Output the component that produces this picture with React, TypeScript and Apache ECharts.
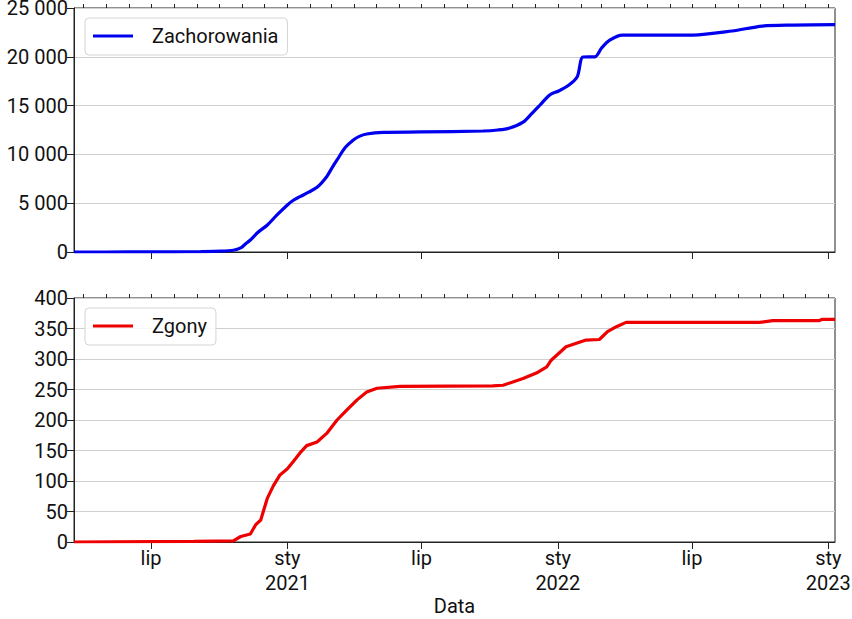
import React, { useEffect, useRef } from "react";
import * as echarts from "echarts";

const casesDates = [
  "2020-03-19", "2020-06-01", "2020-08-01", "2020-09-06", "2020-10-03", "2020-10-20", "2020-10-30",
  "2020-11-05", "2020-11-12", "2020-11-22", "2020-12-05", "2020-12-18", "2021-01-01", "2021-01-09",
  "2021-01-18", "2021-01-29", "2021-02-10", "2021-02-23", "2021-03-02", "2021-03-09", "2021-03-20",
  "2021-03-31", "2021-04-08", "2021-04-18", "2021-05-10", "2021-07-01", "2021-09-22", "2021-10-12",
  "2021-10-28", "2021-11-15", "2021-11-27", "2021-12-08", "2021-12-21", "2022-01-02", "2022-01-14",
  "2022-01-27", "2022-02-04", "2022-02-20", "2022-03-01", "2022-03-12", "2022-03-29", "2022-07-02",
  "2022-08-24", "2022-10-04", "2022-11-15", "2023-01-10",
];
const casesValues = [
  0, 5, 20, 40, 80, 180, 420,
  800, 1230, 2000, 2770, 3800, 4820, 5300,
  5670, 6100, 6630, 7720, 8600, 9430, 10700,
  11480, 11850, 12090, 12260, 12300, 12400, 12500,
  12700, 13300, 14200, 15060, 16090, 16500, 17000,
  17930, 19980, 20000, 20900, 21700, 22230, 22230,
  22640, 23150, 23250, 23290,
];

const deathsDates = [
  "2020-03-19", "2020-08-28", "2020-10-20", "2020-10-30", "2020-11-12", "2020-11-19", "2020-11-26",
  "2020-11-30", "2020-12-05", "2020-12-13", "2020-12-22", "2021-01-01", "2021-01-09", "2021-01-18",
  "2021-01-27", "2021-02-10", "2021-02-23", "2021-03-09", "2021-03-22", "2021-04-05", "2021-04-18",
  "2021-05-02", "2021-06-02", "2021-10-05", "2021-10-19", "2021-11-15", "2021-12-03", "2021-12-17",
  "2021-12-23", "2022-01-12", "2022-02-08", "2022-02-26", "2022-03-09", "2022-03-21", "2022-04-03",
  "2022-09-30", "2022-10-18", "2022-12-20", "2022-12-24", "2023-01-10",
];
const deathsValues = [
  0, 1, 2, 9, 13, 28, 36,
  52, 72, 92, 110, 120, 132, 146,
  158, 164, 178, 200, 216, 233, 246,
  252, 255, 256, 257, 268, 277, 287,
  298, 320, 331, 332, 345, 353, 360,
  360, 363, 363, 365, 365,
];

const xMin = "2020-03-19";
const xMax = "2023-01-10";
const majorTickMonths = ["2020-07", "2021-01", "2021-07", "2022-01", "2022-07", "2023-01"];

const FONT = "Roboto";

function dayTs(s: string): number {
  const [y, m, d] = s.split("-").map(Number);
  return Date.UTC(y, m - 1, d || 1);
}

function buildMinor(): number[] {
  const out: number[] = [];
  for (let y = 2020; y <= 2023; y++) {
    for (let m = 0; m < 12; m++) {
      const t = Date.UTC(y, m, 1);
      if (t >= Date.UTC(2020, 3, 1) && t <= Date.UTC(2023, 0, 1)) out.push(t);
    }
  }
  return out;
}

export default function App() {
  const ref = useRef<HTMLDivElement>(null);
  useEffect(() => {
    document.body.style.margin = "0";
    const chart = echarts.init(ref.current!, undefined, { renderer: "svg" });
    const major = majorTickMonths.map(dayTs);
    const minor = buildMinor();
    const casesData = casesDates.map((d, i) => [dayTs(d), casesValues[i]]);
    const deathsData = deathsDates.map((d, i) => [dayTs(d), deathsValues[i]]);

    const majorAxis = (gridIndex: number, showLabels: boolean, withName: boolean) => ({
      type: "value",
      gridIndex,
      min: dayTs(xMin),
      max: dayTs(xMax),
      axisLine: { show: true, onZero: false, lineStyle: { color: "#222", width: 1 } },
      axisTick: { show: true, length: 7, customValues: major, lineStyle: { color: "#222", width: 1 } },
      axisLabel: {
        show: showLabels,
        customValues: major,
        margin: 3,
        color: "#111",
        fontFamily: FONT,
        fontSize: 20,
        lineHeight: 25,
        verticalAlign: "top",
        formatter: (v: number) => {
          const d = new Date(v);
          return d.getUTCMonth() === 0 ? `sty\n${d.getUTCFullYear()}` : "lip";
        },
      },
      splitLine: { show: false },
      name: withName ? "Data" : "",
      nameLocation: "middle",
      nameGap: 50,
      nameTextStyle: { color: "#111", fontFamily: FONT, fontSize: 20, verticalAlign: "top" },
    });
    const minorAxis = (gridIndex: number) => ({
      type: "value",
      gridIndex,
      min: dayTs(xMin),
      max: dayTs(xMax),
      axisLine: { show: false, onZero: false },
      axisTick: { show: true, length: 4, customValues: minor, lineStyle: { color: "#222", width: 1 } },
      axisLabel: { show: false },
      splitLine: { show: false },
    });
    const yAxis = (gridIndex: number, max: number, interval: number) => ({
      type: "value",
      gridIndex,
      min: 0,
      max,
      interval,
      axisLine: { show: true, lineStyle: { color: "#222", width: 1 } },
      axisTick: { show: true, length: 7, lineStyle: { color: "#222", width: 1 } },
      axisLabel: {
        margin: 6,
        color: "#111",
        fontFamily: FONT,
        fontSize: 20,
        lineHeight: 16,
        formatter: (v: number) => String(v).replace(/\B(?=(\d{3})+(?!\d))/g, " "),
      },
      splitLine: { show: true, lineStyle: { color: "#cfcfcf", width: 1 } },
    });
    const legend = (name: string, top: number) => ({
      data: [name],
      left: 85,
      top,
      orient: "horizontal",
      icon: "rect",
      itemWidth: 40,
      itemHeight: 3,
      padding: [6, 9, 7, 8],
      backgroundColor: "rgba(255,255,255,0.85)",
      borderColor: "#d4d4d4",
      borderWidth: 1,
      borderRadius: 4,
      textStyle: { color: "#111", fontFamily: FONT, fontSize: 20, lineHeight: 24, padding: [0, 0, 0, 14] },
    });

    chart.setOption({
      animation: false,
      backgroundColor: "#ffffff",
      textStyle: { fontFamily: FONT },
      grid: [
        { left: 74, right: 17, top: 8, height: 244, show: true, borderColor: "#222", borderWidth: 1, outerBoundsMode: "none", containLabel: false },
        { left: 74, right: 17, top: 298, height: 244, show: true, borderColor: "#222", borderWidth: 1, outerBoundsMode: "none", containLabel: false },
      ],
      legend: [legend("Zachorowania", 18), legend("Zgony", 308)],
      xAxis: [majorAxis(0, false, false), minorAxis(0), majorAxis(1, true, true), minorAxis(1)],
      yAxis: [yAxis(0, 25000, 5000), yAxis(1, 400, 50)],
      series: [
        {
          name: "Zachorowania",
          type: "line",
          xAxisIndex: 0,
          yAxisIndex: 0,
          data: casesData,
          showSymbol: false,
          smooth: 0.3,
          color: "#0000ee",
          lineStyle: { width: 3.2, color: "#0000ee" },
        },
        {
          name: "Zgony",
          type: "line",
          xAxisIndex: 2,
          yAxisIndex: 1,
          data: deathsData,
          showSymbol: false,
          color: "#ee0000",
          lineStyle: { width: 3.2, color: "#ee0000" },
        },
      ],
    });
    return () => chart.dispose();
  }, []);
  return <div ref={ref} style={{ position: "absolute", left: 0, top: 0, width: 852, height: 619 }} />;
}
